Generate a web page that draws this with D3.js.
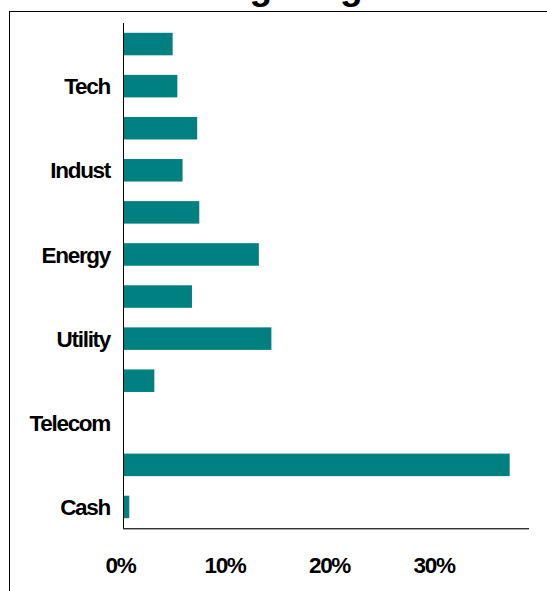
<!DOCTYPE html>
<html>
<head>
<meta charset="utf-8">
<script src="https://cdn.jsdelivr.net/npm/d3@7"></script>
<style>
  body { margin: 0; background: #fff; }
  svg { display: block; }
  .lbl { font-family: Arial, "Liberation Sans", sans-serif; font-weight: bold; font-size: 22.5px; letter-spacing: -1.3px; fill: #000; }
</style>
</head>
<body>
<div id="chart"></div>
<script>
var W = 547, H = 591;

// sectors top to bottom, only every second one gets a label (as in the original)
var sectors = ["Consumer", "Tech", "Finance", "Indust", "Health", "Energy",
               "Material", "Utility", "Staples", "Telecom", "Bonds", "Cash"];
var weights = [0.0475, 0.052, 0.071, 0.057, 0.073, 0.130,
               0.066, 0.142, 0.030, 0, 0.370, 0.006];
var xTicks = [0, 0.1, 0.2, 0.3];
var title = "Weighting";

var margin = {top: 23, left: 123, right: 18, bottom: 63},
    width  = W - margin.left - margin.right,
    height = H - margin.top - margin.bottom;

var svg = d3.select("#chart").append("svg")
    .attr("width", W)
    .attr("height", H);

// outer frame, runs off the right and bottom edge
svg.append("rect")
    .attr("x", 9.5).attr("y", 11.5)
    .attr("width", 700).attr("height", 700)
    .attr("fill", "none")
    .attr("stroke", "#000")
    .attr("stroke-width", 1);

// title mostly above the view, only descenders show
svg.append("text")
    .attr("class", "lbl")
    .attr("x", W / 2)
    .attr("y", -1)
    .attr("text-anchor", "middle")
    .style("font-size", "37px")
    .style("letter-spacing", "0px")
    .text(title);

var g = svg.append("g").attr("transform", "translate(" + margin.left + "," + margin.top + ")");

var x = d3.scaleLinear().domain([0, 0.3885]).range([0, width]);
var y = d3.scaleBand().domain(sectors).range([0, height])
    .paddingInner(0.465).paddingOuter(0.2325);

g.selectAll(".bar")
  .data(sectors)
  .enter().append("rect")
    .attr("class", "bar")
    .attr("x", 0)
    .attr("y", function(d) { return y(d); })
    .attr("width", function(d, i) { return x(weights[i]); })
    .attr("height", y.bandwidth())
    .attr("fill", "#008080");

// y axis: every other label
var yAxis = g.append("g")
  .call(d3.axisLeft(y)
    .tickValues(sectors.filter(function(d, i) { return i % 2 == 1; }))
    .tickSize(0)
    .tickPadding(13));
yAxis.select(".domain").remove();
yAxis.selectAll("text")
    .attr("class", "lbl")
    .attr("dy", "0.36em")
    .attr("font-size", null)
    .attr("font-family", null);

g.append("line")
    .attr("x1", 0.5).attr("x2", 0.5)
    .attr("y1", 0).attr("y2", height)
    .attr("stroke", "#000");

// x axis
g.append("line")
    .attr("x1", 0).attr("x2", width)
    .attr("y1", height + 0.5).attr("y2", height + 0.5)
    .attr("stroke", "#333");
g.append("line")
    .attr("x1", 0).attr("x2", width)
    .attr("y1", height + 1.5).attr("y2", height + 1.5)
    .attr("stroke", "#aaa");

var xAxis = g.append("g")
  .attr("transform", "translate(0," + height + ")")
  .call(d3.axisBottom(x)
    .tickValues(xTicks)
    .tickFormat(d3.format(".0%"))
    .tickSize(0)
    .tickPadding(29));
xAxis.select(".domain").remove();
xAxis.selectAll("text")
    .attr("class", "lbl")
    .attr("dx", "-3px")
    .attr("font-size", null)
    .attr("font-family", null);
</script>
</body>
</html>
